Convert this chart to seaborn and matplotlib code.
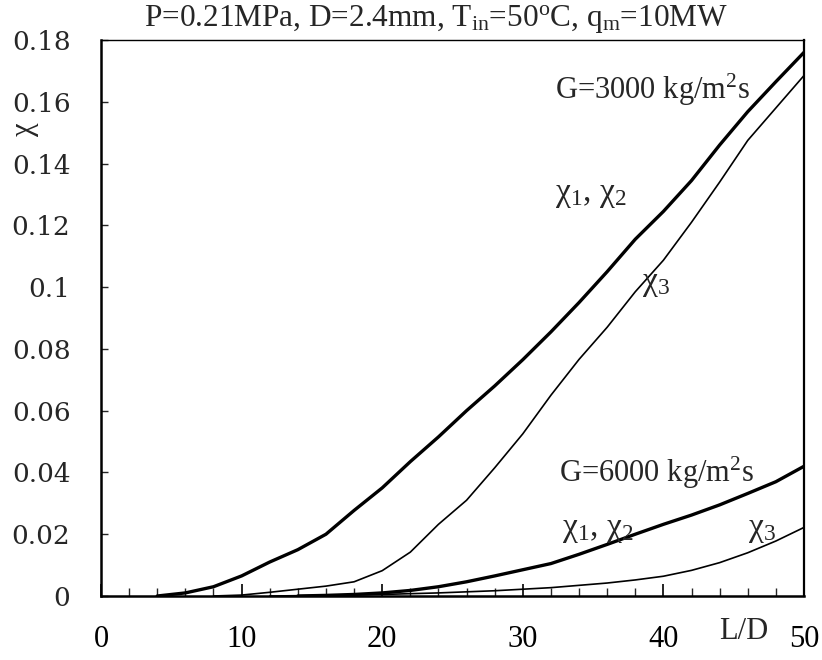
import matplotlib
matplotlib.use("Agg")
import matplotlib.pyplot as plt
import matplotlib.transforms as mtransforms
from matplotlib.ticker import MultipleLocator
import seaborn as sns
import numpy as np

# ---------------- data ----------------
ld_g3000_x12 = [4, 6, 8, 10, 12, 14, 16, 18, 20, 22, 24, 26, 28, 30, 32, 34,
                36, 38, 40, 42, 44, 46, 48, 50]
chi_g3000_x12 = [0.0, 0.001, 0.003, 0.0065, 0.011, 0.015, 0.020, 0.0277, 0.035,
                 0.0435, 0.0515, 0.060, 0.068, 0.0765, 0.0855, 0.095, 0.105,
                 0.1155, 0.1245, 0.1345, 0.146, 0.1568, 0.1665, 0.176]

ld_g3000_x3 = [8, 10, 12, 14, 16, 18, 20, 22, 24, 26, 28, 30, 32, 34, 36, 38,
               40, 42, 44, 46, 48, 50]
chi_g3000_x3 = [0.0, 0.0003, 0.0012, 0.0022, 0.0032, 0.0046, 0.0082, 0.0142,
                0.0232, 0.031, 0.0415, 0.0525, 0.065, 0.0766, 0.087, 0.0985,
                0.1087, 0.121, 0.134, 0.1475, 0.158, 0.1685]

ld_g6000_x12 = [14, 16, 18, 20, 22, 24, 26, 28, 30, 32, 34, 36, 38, 40, 42, 44,
                46, 48, 50]
chi_g6000_x12 = [0.0, 0.0002, 0.0005, 0.001, 0.0018, 0.003, 0.0046, 0.0065,
                 0.0085, 0.0105, 0.0135, 0.0167, 0.020, 0.0232, 0.0262, 0.0295,
                 0.0332, 0.037, 0.0420]

ld_g6000_x3 = [12, 16, 20, 24, 28, 32, 36, 38, 40, 42, 44, 46, 48, 50]
chi_g6000_x3 = [0.0, 0.0002, 0.0005, 0.001, 0.0017, 0.0027, 0.0042, 0.0052,
                0.0064, 0.0083, 0.0108, 0.014, 0.0178, 0.0222]

x_ticks = [0, 10, 20, 30, 40, 50]
x_tick_labels = ["0", "10", "20", "30", "40", "50"]
y_ticks = [0, 0.02, 0.04, 0.06, 0.08, 0.1, 0.12, 0.14, 0.16, 0.18]
y_tick_labels = ["0", "0.02", "0.04", "0.06", "0.08", "0.1", "0.12", "0.14",
                 "0.16", "0.18"]

title_text = r"P=0.21MPa, D=2.4mm, T$_{\mathrm{in}}$=50$^{\mathrm{o}}$C, q$_{\mathrm{m}}$=10MW"
label_g3000 = r"G=3000 kg/m$^{2}$s"
label_g6000 = r"G=6000 kg/m$^{2}$s"
label_x12 = r"χ$_{1}$, χ$_{2}$"
label_x3 = r"χ$_{3}$"

# ---------------- style ----------------
sns.set_style("white")
plt.rcParams["font.family"] = ["Liberation Serif", "DejaVu Serif"]
plt.rcParams["mathtext.fontset"] = "custom"
plt.rcParams["mathtext.rm"] = "Liberation Serif"
plt.rcParams["mathtext.it"] = "Liberation Serif:italic"
plt.rcParams["mathtext.bf"] = "Liberation Serif:bold"

fig = plt.figure(figsize=(8.22, 6.6), dpi=100)
fig.patch.set_facecolor("white")
# axes box: left 101 px, right 804 px, top 40 px, bottom 596 px
ax = fig.add_axes([101 / 822, 1 - 596 / 660, 703 / 822, 556 / 660])
ax.set_facecolor("white")

thick = 2.4
thin = 1.2
sns.lineplot(x=ld_g3000_x12, y=chi_g3000_x12, ax=ax, color="black", linewidth=thick)
sns.lineplot(x=ld_g3000_x3, y=chi_g3000_x3, ax=ax, color="black", linewidth=thin)
sns.lineplot(x=ld_g6000_x12, y=chi_g6000_x12, ax=ax, color="black", linewidth=thick)
sns.lineplot(x=ld_g6000_x3, y=chi_g6000_x3, ax=ax, color="black", linewidth=thin)

ax.set_xlim(0, 50)
ax.set_ylim(0, 0.18)

ax.set_xticks(x_ticks)
ax.set_xticklabels(x_tick_labels)
ax.xaxis.set_minor_locator(MultipleLocator(2))
ax.set_yticks(y_ticks)
ax.set_yticklabels(y_tick_labels)

ax.tick_params(axis="x", which="major", direction="in", length=9, width=1.2,
               pad=21, labelsize=22, colors="black", bottom=True)
ax.tick_params(axis="x", which="minor", direction="in", length=6, width=1.0,
               bottom=True)
ax.tick_params(axis="y", which="major", direction="in", length=5, width=1.0,
               pad=22, labelsize=19, left=True)
for lab in ax.get_yticklabels():
    lab.set_fontfamily("DejaVu Serif")

for side in ["left", "bottom"]:
    ax.spines[side].set_linewidth(1.8)
    ax.spines[side].set_color("black")
ax.spines["right"].set_linewidth(1.6)
ax.spines["right"].set_color("black")
ax.spines["top"].set_linewidth(1.0)
ax.spines["top"].set_color("black")
ax.spines["top"].set_linestyle((0, (1.5, 1)))

ax.set_xlabel("")
ax.set_ylabel("")

# title
fig.text(0.53, 1 - 26 / 660, title_text, ha="center", va="baseline",
         fontsize=22.5)

# y label chi (rotated)
trans_y = mtransforms.blended_transform_factory(fig.transFigure, ax.transData)
fig.text(0.030, 0.151, "χ", rotation=90, ha="center", va="center",
         fontsize=22, transform=trans_y)

# L/D label
trans_x = mtransforms.blended_transform_factory(ax.transData, ax.transAxes)
ax.text(45.7, -0.063, "L/D", ha="center", va="center", fontsize=22,
        transform=trans_x)

# annotations
fs = 22
fsx = 24
ax.text(32.3, 0.164, label_g3000, ha="left", va="center", fontsize=fs)
ax.text(32.3, 0.130, label_x12, ha="left", va="center", fontsize=fsx)
ax.text(38.5, 0.101, label_x3, ha="left", va="center", fontsize=fsx)
ax.text(32.6, 0.040, label_g6000, ha="left", va="center", fontsize=fs)
ax.text(32.8, 0.0216, label_x12, ha="left", va="center", fontsize=fsx)
ax.text(46.0, 0.0216, label_x3, ha="left", va="center", fontsize=fsx)

fig.savefig("out.png", dpi=100, facecolor="white")
